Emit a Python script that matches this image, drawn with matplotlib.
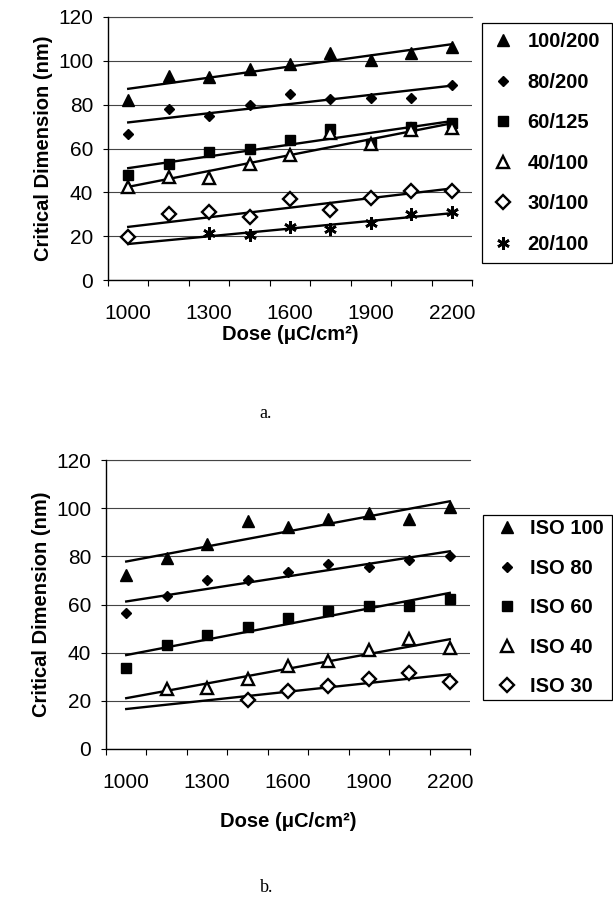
import numpy as np
import matplotlib
matplotlib.use("Agg")
import matplotlib.pyplot as plt

plt.rcParams["font.family"] = ["Liberation Sans", "DejaVu Sans"]

# categories (dose, uC/cm^2) -- Excel style category axis
doses = [1000, 1150, 1300, 1450, 1600, 1750, 1900, 2050, 2200]
tick_labels = ["1000", "", "1300", "", "1600", "", "1900", "", "2200"]

# panel a: line/space groups
a_names = ["100/200", "80/200", "60/125", "40/100", "30/100", "20/100"]
a_100_200 = [82, 93, 92.6, 96.4, 98.4, 103.7, 100.6, 103.7, 106.3]
a_80_200 = [66.4, 78.2, 74.7, 80, 85, 82.8, 83.1, 83.2, 89.2]
a_60_125 = [48, 53, 58.5, 60, 64, 69, 62, 70, 71.5]
a_40_100 = [42.5, 47, 46.5, 53, 57, 67, 62, 68.5, 69.5]
a_30_100 = [19.7, 30.1, 30.8, 28.9, 36.9, 31.9, 37.5, 40.6, 40.6]
a_20_100 = [np.nan, np.nan, 21.6, 20.5, 24.3, 23.1, 25.8, 30.1, 31.1]

# panel b: isolated lines
b_names = ["ISO 100", "ISO 80", "ISO 60", "ISO 40", "ISO 30"]
b_iso100 = [72.4, 79.3, 85.2, 94.5, 92.1, 95.6, 98.2, 95.6, 100.3]
b_iso80 = [56.6, 63.4, 70.3, 70.3, 73.5, 76.8, 75.6, 78.6, 80]
b_iso60 = [33.8, 43, 47.2, 50.6, 54.5, 57.2, 59.3, 59.3, 62.3]
b_iso40 = [np.nan, 25, 25.5, 29, 34.5, 36.5, 41, 45.5, 42]
b_iso30 = [np.nan, np.nan, np.nan, 20.5, 24, 26, 29, 31.5, 28]

# marker styles: (marker, size, filled, edge width)
styles = [
    ("^", 8.5, True, 1.0),
    ("D", 5.5, True, 1.0),
    ("s", 6.7, True, 1.0),
    ("^", 8.8, False, 1.7),
    ("D", 7.2, False, 1.7),
    ((6, 2, 0), 9, True, 1.9),
]


def draw_panel(ax, series, names, xlabelpad):
    x = np.arange(len(doses))
    for i, (vals, name) in enumerate(zip(series, names)):
        y = np.array(vals, dtype=float)
        m, ms, filled, mew = styles[i]
        ok = ~np.isnan(y)
        # Excel-style linear trendline, drawn across all categories
        slope, icpt = np.polyfit(x[ok], y[ok], 1)
        ax.plot(x, slope * x + icpt, color="black", lw=1.7, zorder=3 + 2 * i)
        ax.plot(x, y, linestyle="none", marker=m, ms=ms,
                mfc="black" if filled else "white", mec="black",
                mew=mew, label=name, zorder=4 + 2 * i)

    ax.set_xlim(-0.5, len(doses) - 0.5)
    ax.set_ylim(0, 120)
    ax.set_yticks(np.arange(0, 121, 20))
    ax.set_xticks(x)
    ax.set_xticklabels(tick_labels)
    ax.set_xticks(np.arange(-0.5, len(doses)), minor=True)
    ax.tick_params(axis="x", which="major", length=0, labelsize=15, pad=17.5)
    ax.tick_params(axis="x", which="minor", length=4, width=0.8, direction="out")
    ax.tick_params(axis="y", length=3.6, width=0.8, labelsize=15, pad=7)
    ax.grid(axis="y", color="#444444", lw=0.8)
    ax.set_axisbelow(True)
    for s in ("top", "right"):
        ax.spines[s].set_visible(False)
    for s in ("left", "bottom"):
        ax.spines[s].set_linewidth(1.0)
    ax.axhline(120, color="#444444", lw=0.8, clip_on=False)
    ax.set_xlabel("Dose (μC/cm²)", fontsize=14.5, fontweight="bold", labelpad=xlabelpad)
    ax.set_ylabel("Critical Dimension (nm)", fontsize=14.5, fontweight="bold", labelpad=4)


def add_legend(fig, ax, x0, ytop, bpad, hlen, htpad, lspace):
    leg = fig.legend(*ax.get_legend_handles_labels(), loc="upper left",
                     bbox_to_anchor=(x0 / 613, 1 - ytop / 899, (612 - x0) / 613, 0),
                     mode="expand", borderaxespad=0, frameon=True,
                     fancybox=False, edgecolor="black", framealpha=1,
                     prop={"weight": "bold", "size": 14.5}, handlelength=hlen,
                     labelspacing=lspace, borderpad=bpad, handletextpad=htpad)
    leg.get_frame().set_linewidth(0.9)
    return leg


fig = plt.figure(figsize=(6.13, 8.99), dpi=100)

ax_a = fig.add_axes([108 / 613, 1 - 280 / 899, 364 / 613, 263 / 899])
draw_panel(ax_a, [a_100_200, a_80_200, a_60_125, a_40_100, a_30_100, a_20_100],
           a_names, xlabelpad=1.3)
add_legend(fig, ax_a, 482, 23, bpad=0.45, hlen=1.2, htpad=0.6, lspace=1.07)

ax_b = fig.add_axes([106 / 613, 1 - 749 / 899, 364 / 613, 289 / 899])
draw_panel(ax_b, [b_iso100, b_iso80, b_iso60, b_iso40, b_iso30],
           b_names, xlabelpad=14.5)
add_legend(fig, ax_b, 483, 515, bpad=0.2, hlen=2.0, htpad=0.12, lspace=1.02)

fig.text(266 / 613, 1 - 413 / 899, "a.", family="Liberation Serif", fontsize=13,
         ha="center", va="center")
fig.text(267 / 613, 1 - 888 / 899, "b.", family="Liberation Serif", fontsize=13,
         ha="center", va="center")

fig.savefig("out.png", dpi=100)
